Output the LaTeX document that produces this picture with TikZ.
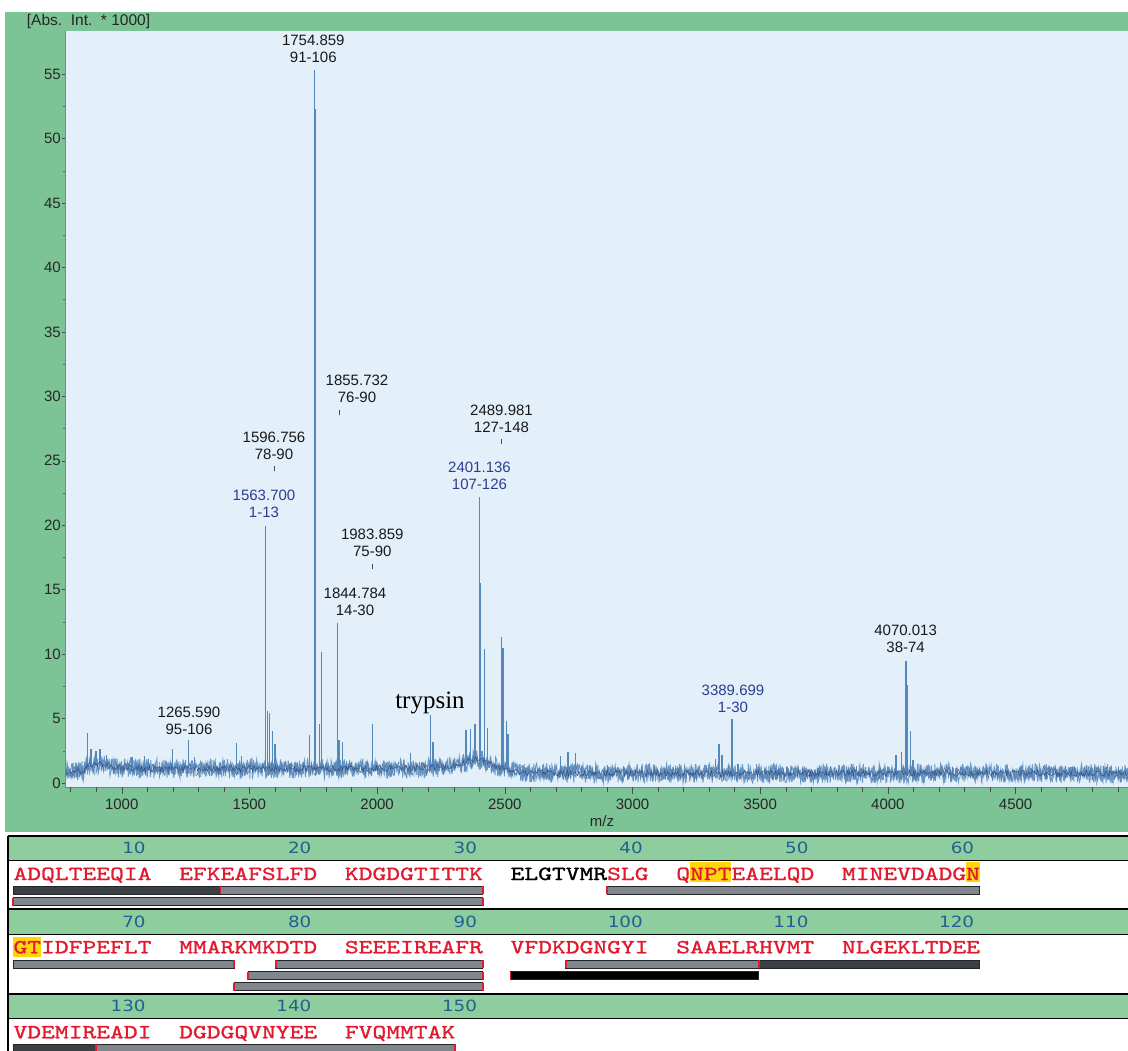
\documentclass[tikz,border=0pt]{standalone}
\usepackage{fontspec}
\setmainfont{Liberation Sans}
\newfontfamily\seqfont[FakeStretch=1.314,FakeBold=1.2]{lmmono10-regular.otf}
\newfontfamily\numfont[FakeStretch=1.18]{DejaVu Sans}
\newfontfamily\trypfont{Liberation Serif}

\definecolor{framegreen}{RGB}{124,196,150}
\definecolor{headgreen}{RGB}{142,205,157}
\definecolor{plotbg}{RGB}{227,239,249}
\definecolor{specblue}{RGB}{84,136,186}
\definecolor{noiseblue}{RGB}{104,150,198}
\definecolor{darknoise}{RGB}{40,75,140}
\definecolor{labblue}{RGB}{44,62,145}
\definecolor{numblue}{RGB}{35,95,145}
\definecolor{seqred}{RGB}{226,26,48}
\definecolor{hilite}{RGB}{255,214,10}
\definecolor{bargrey}{RGB}{128,134,142}
\definecolor{bardark}{RGB}{58,64,70}

\tikzset{
	peaklab/.style={font=\fontsize{15}{17}\selectfont, align=center, text=black!90, inner sep=0pt},
	bluelab/.style={peaklab, text=labblue},
	ylab/.style={font=\fontsize{15}{17}\selectfont, text=black!85, anchor=east, inner sep=0pt},
	xlab/.style={font=\fontsize{15}{17}\selectfont, text=black!85, inner sep=0pt},
	labtick/.style={black!70, line width=0.6pt},
	peak/.style={specblue, line width=1.5pt},
	seqtext/.style={font=\seqfont\fontsize{20}{20}\selectfont, text=seqred, anchor=base west, inner sep=0pt},
	posnum/.style={font=\numfont\fontsize{15.5}{16}\selectfont, text=numblue, anchor=base east, inner sep=0pt},
	barstyle/.style={draw=black!85, line width=1pt},
	cutmark/.style={seqred, line width=1.8pt},
	rule/.style={black, line width=1.4pt}
}

\newcommand\covbar[6]{%
	\pgfmathsetmacro\xa{13.3+165.7*floor(#2/10)+13.8*mod(#2,10)}%
	\pgfmathsetmacro\xb{13.3+165.7*floor(#3/10)+13.8*mod(#3,10)+13.8}%
	\draw[barstyle, fill=#4] (\xa,#1-4) rectangle (\xb,#1+4);
	\ifnum#5=1 \draw[cutmark] (\xa,#1-4) -- (\xa,#1+4);\fi
	\ifnum#6=1 \draw[cutmark] (\xb,#1-4) -- (\xb,#1+4);\fi}

\begin{document}
\begin{tikzpicture}[x=1pt, y=-1pt,
	declare function={bl(\t)=0.75+0.35*min(1,max(0,(2560-\t)/120))+0.7/(1+((\t-2390)/60)*((\t-2390)/60))+0.35/(1+((\t-900)/50)*((\t-900)/50))-0.3*max(0,min(1,(870-\t)/20));}]
	\useasboundingbox (0,0) rectangle (1128,1051);
	\fill[white] (0,0) rectangle (1128,1051);
	\fill[framegreen] (5,12) rectangle (1128,832);
	\fill[plotbg] (65,31) rectangle (1128,787);
	\node[xlab, anchor=west, font=\fontsize{15.5}{17}\selectfont] (ytitle) at (26.7,21.7) {[Abs.\ \ Int.\ \ * 1000]};

	% spectrum
	\begin{scope}[shift={(-133.7pt,-783pt)}, x=0.2554pt, y=12.89pt]
		\clip (778,-0.31) rectangle (4940,58.3);
		\pgfmathsetseed{7}
		\draw[noiseblue, line width=0.9pt] (778,{bl(778)}) \foreach \m in {780,782,...,4940} {-- (\m,{bl(\m)+0.75*rand})};
		\draw[noiseblue!85!black, line width=0.5pt] (779,{bl(779)}) \foreach \m in {781,783,...,4941} {-- (\m,{bl(\m)+0.55*rand})};
		\foreach \m/\h in {866/3.9,880/2.6,900/2.5,915/2.6,940/2.2,1040/2.0,1090/2.1,1105/1.9,1199/2.6,1262/3.3,1285/2.0,1450/3.1,1470/2.1,1563.7/19.9,1570/5.6,1579/5.4,1590/4.0,1600/3.0,1736/3.7,1757/52.3,1775/4.6,1782/10.2,1844.8/12.4,1850/3.3,1865/3.2,1982/4.6,2131/2.35,2209/5.3,2218/3.2,2348/4.1,2366/4.2,2383/4.6,2401.1/22.2,2405/15.5,2421/10.4,2432/4.3,2488/11.3,2492/10.5,2506/4.8,2513/3.8,2718/2.1,2747/2.4,2777/2.3,3325/1.9,3338/3.0,3350/2.2,3389.7/5.0,3413/1.5,4031/2.2,4054/2.4,4070/9.5,4074/7.6,4089/4.0,4098/1.8}
			\draw[peak] (\m,{bl(\m)}) -- (\m,\h);
		\draw[specblue, line width=0.8pt] (1754.9,1) -- (1754.9,55.3);
		\draw[darknoise, line width=0.4pt] (778,{bl(778)}) \foreach \m in {781,785,...,4941} {-- (\m,{bl(\m)+0.25*rand})};
	\end{scope}

	\draw[black!50, line width=0.5pt] (65,31) -- (65,787) -- (1128,787);
	\foreach \v in {0,5,...,55} {
		\draw[black!70] (61.5,{783-12.89*\v}) -- (65,{783-12.89*\v});
		\node[ylab] (y\v) at (61,{783-12.89*\v}) {\v};
	}
	\foreach \v in {2.5,7.5,...,52.5}
		\draw[black!60] (63,{783-12.89*\v}) -- (65,{783-12.89*\v});
	\foreach \m in {800,900,...,4900}
		\draw[black!70] ({121.7+(\m-1000)*0.2554},787) -- ++(0,4.5);
	\foreach \m in {1000,1500,...,4500} {
		\draw[black!70] ({121.7+(\m-1000)*0.2554},787) -- ++(0,7);
		\node[xlab] (x\m) at ({121.7+(\m-1000)*0.2554},804) {\m};
	}
	\node[xlab] (mz) at (602,821) {m/z};

	% peak labels
	\node[peaklab] (p1754) at (313.3,48.5) {1754.859\\91-106};
	\node[peaklab] (p1855) at (357,389) {1855.732\\76-90};
	\node[peaklab] (p2489) at (501.5,419) {2489.981\\127-148};
	\node[bluelab] (p2401) at (479.5,475.7) {2401.136\\107-126};
	\node[peaklab] (p1983) at (372.3,543) {1983.859\\75-90};
	\node[peaklab] (p1844) at (355,602) {1844.784\\14-30};
	\node[peaklab] (p1596) at (274,445.5) {1596.756\\78-90};
	\node[bluelab] (p1563) at (264,503.5) {1563.700\\1-13};
	\node[peaklab] (p1265) at (189,721) {1265.590\\95-106};
	\node[bluelab] (p3389) at (733,699) {3389.699\\1-30};
	\node[peaklab] (p4070) at (905.6,639) {4070.013\\38-74};
	\node[font=\trypfont\fontsize{25}{25}\selectfont, inner sep=0pt] (tryp) at (430,703) {trypsin};
	\draw[labtick] (339.3,410) -- (339.3,415);
	\draw[labtick] (501.3,439) -- (501.3,444);
	\draw[labtick] (372.3,564) -- (372.3,569);
	\draw[labtick] (274,466) -- (274,471);

	% sequence coverage
	\fill[headgreen] (8,836) rectangle (1128,860);
	\fill[headgreen] (8,909) rectangle (1128,934);
	\fill[headgreen] (8,994) rectangle (1128,1018);
	\foreach \ya/\yb in {836/860,909/934,994/1018} {
		\draw[rule] (8,\ya) -- (1128,\ya);
		\draw[black, line width=0.8pt] (8,\yb) -- (1128,\yb);
	}
	\draw[rule] (8,836) -- (8,1051);

	\fill[hilite] ({13.3+165.7*4+13.8},862) rectangle ({13.3+165.7*4+13.8*4},882);
	\fill[hilite] ({13.3+165.7*5+13.8*9},862) rectangle ({13.3+165.7*5+13.8*10},882);
	\fill[hilite] (13.3,936.7) rectangle ({13.3+13.8*2},957.3);

	\foreach \b/\n in {0/10,1/20,2/30,3/40,4/50,5/60}
		\node[posnum] at ({13.3+165.7*\b+132.5},853.6) {\n};
	\foreach \b/\n in {0/70,1/80,2/90,3/100,4/110,5/120}
		\node[posnum] at ({13.3+165.7*\b+132.5},927.3) {\n};
	\foreach \b/\n in {0/130,1/140,2/150}
		\node[posnum] at ({13.3+165.7*\b+132.5},1011.7) {\n};

	\foreach \b/\s in {0/ADQLTEEQIA,1/EFKEAFSLFD,2/KDGDGTITTK,3/{\textcolor{black}{ELGTVMR}SLG},4/QNPTEAELQD,5/MINEVDADGN}
		\node[seqtext] (s1\b) at ({13.3+165.7*\b},880) {\s};
	\foreach \b/\s in {0/GTIDFPEFLT,1/MMARKMKDTD,2/SEEEIREAFR,3/VFDKDGNGYI,4/SAAELRHVMT,5/NLGEKLTDEE}
		\node[seqtext] (s2\b) at ({13.3+165.7*\b},953.3) {\s};
	\foreach \b/\s in {0/VDEMIREADI,1/DGDGQVNYEE,2/FVQMMTAK}
		\node[seqtext] (s3\b) at ({13.3+165.7*\b},1038.3) {\s};

	\covbar{890}{0}{12}{bardark}{0}{0}
	\covbar{890}{13}{29}{bargrey}{1}{1}
	\covbar{890}{37}{59}{bargrey}{1}{0}
	\covbar{901.7}{0}{29}{bargrey}{1}{1}
	\covbar{964.3}{0}{13}{bargrey}{0}{1}
	\covbar{964.3}{17}{29}{bargrey}{1}{1}
	\covbar{964.3}{34}{45}{bargrey}{1}{0}
	\covbar{964.3}{46}{59}{bardark}{1}{0}
	\covbar{975.7}{15}{29}{bargrey}{1}{1}
	\covbar{975.7}{30}{45}{black}{1}{0}
	\covbar{986.7}{14}{29}{bargrey}{1}{1}
	\covbar{1048}{0}{5}{bardark}{0}{0}
	\covbar{1048}{6}{27}{bargrey}{1}{1}
\end{tikzpicture}
\end{document}
